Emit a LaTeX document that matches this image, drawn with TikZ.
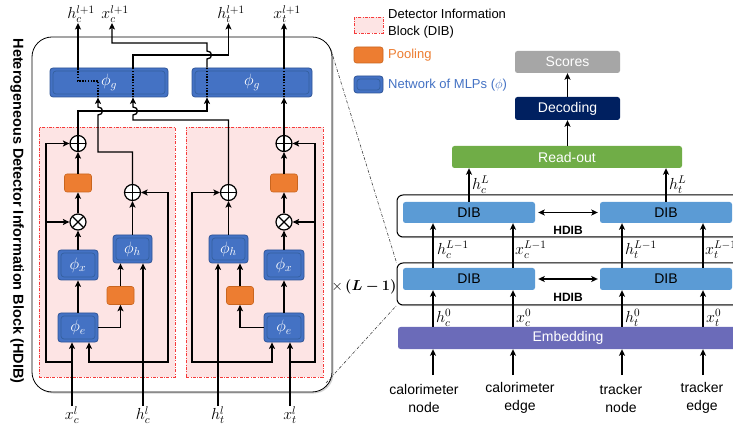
\documentclass[tikz,border=0pt]{standalone}
\usepackage{fix-cm}
\usepackage{bm}
\usepackage[no-math]{fontspec}
\setmainfont{Liberation Sans}
\usetikzlibrary{arrows.meta,shadows,calc}
\definecolor{mlpblue}{HTML}{4472C4}
\definecolor{mlpedge}{HTML}{2F5597}
\definecolor{mlpin}{HTML}{34609F}
\definecolor{poolor}{HTML}{ED7D31}
\definecolor{pooledge}{HTML}{C9651F}
\definecolor{dibpink}{HTML}{FDE4E4}
\definecolor{dibred}{HTML}{F53B3B}
\definecolor{dibblue}{HTML}{5B9BD5}
\definecolor{rogreen}{HTML}{70AD47}
\definecolor{decnavy}{HTML}{002060}
\definecolor{scgray}{HTML}{A6A6A6}
\definecolor{embpurple}{HTML}{6B6BB9}
\begin{document}
\begin{tikzpicture}[x=1pt,y=-1pt,
  font=\fontsize{14}{17}\selectfont,
  wire/.style={line width=1.3pt, line join=miter},
  arr/.style={wire,-{Stealth[length=6.5pt,width=6pt,inset=1.5pt]}},
  darr/.style={wire,{Stealth[length=6.5pt,width=6pt,inset=1.5pt]}-{Stealth[length=6.5pt,width=6pt,inset=1.5pt]}},
  dotw/.style={line width=1.3pt, dash pattern=on 1.4pt off 1.4pt},
  mlp/.style={draw=mlpedge, fill=mlpblue, line width=0.8pt, rounded corners=3pt, text=white, inner sep=0pt,
     font=\fontsize{16.5}{18}\selectfont,
     path picture={\draw[mlpin, line width=0.7pt] ([shift={(3pt,3pt)}]path picture bounding box.south west) rectangle ([shift={(-3pt,-3pt)}]path picture bounding box.north east);}},
  pool/.style={draw=pooledge, fill=poolor, line width=0.6pt, rounded corners=2.5pt, minimum width=27pt, minimum height=18pt, inner sep=0pt},
  opl/.style={circle, draw, line width=1.2pt, fill=white, minimum size=16pt, inner sep=0pt,
     path picture={\draw[line width=1.2pt] (path picture bounding box.north) -- (path picture bounding box.south) (path picture bounding box.west) -- (path picture bounding box.east);}},
  otm/.style={circle, draw, line width=1.2pt, fill=white, minimum size=16pt, inner sep=0pt,
     path picture={\draw[line width=1.2pt] ([shift={(-6pt,-6pt)}]path picture bounding box.center) -- ([shift={(6pt,6pt)}]path picture bounding box.center) ([shift={(-6pt,6pt)}]path picture bounding box.center) -- ([shift={(6pt,-6pt)}]path picture bounding box.center);}},
  dibbox/.style={draw=dibred, fill=dibpink, line width=0.6pt, dash pattern=on 3pt off 1.5pt on 0.7pt off 1.5pt, inner sep=0pt},
  colbox/.style={rounded corners=2.5pt, text=white, inner sep=0pt},
  dib/.style={fill=dibblue, rounded corners=2.5pt, inner sep=0pt},
  hframe/.style={draw, line width=1pt, rounded corners=6pt, fill=white, inner sep=0pt, drop shadow={opacity=0.35, shadow xshift=0.8pt, shadow yshift=-1.2pt}},
  zoomline/.style={line width=0.6pt, draw=black!75, dash pattern=on 3pt off 1.5pt on 0.6pt off 1.5pt},
  lab/.style={inner sep=0pt},
  mlab/.style={inner sep=0pt, font=\fontsize{16}{18}\selectfont}
]
\clip (0,0) rectangle (733,427);
\fill[white] (0,0) rectangle (733,427);

% ---------- left: HDIB detail ----------
\node[draw, line width=0.8pt, rounded corners=20pt, fill=white, minimum width=300pt, minimum height=355pt, inner sep=0pt,
      drop shadow={opacity=0.35, shadow xshift=1.5pt, shadow yshift=-1.5pt}] (hdibL) at (182,214.5) {};
\node[rotate=-90, font=\bfseries\fontsize{14.5}{16}\selectfont] (title) at (17,211) {Heterogeneous Detector Information Block (HDIB)};

\node[dibbox, minimum width=136pt, minimum height=250pt] (dibL) at (107,252) {};
\node[dibbox, minimum width=137pt, minimum height=250pt] (dibR) at (254.5,252) {};

\node[mlp, minimum width=118pt, minimum height=29pt] (phigL) at (109,82.5) {$\phi_g$};
\node[mlp, minimum width=120pt, minimum height=29pt] (phigR) at (252,82.5) {$\phi_g$};

% left DIB
\node[mlp, minimum width=40pt, minimum height=29pt] (pheL) at (78,327.5) {$\phi_e$};
\node[mlp, minimum width=40pt, minimum height=30pt] (phxL) at (78,265) {$\phi_x$};
\node[mlp, minimum width=39pt, minimum height=28pt] (phhL) at (132.5,249) {$\phi_h$};
\node[pool] (poolhL) at (120.5,295.5) {};
\node[pool] (poolxL) at (78,183) {};
\node[otm] (otmL) at (78,222) {};
\node[opl] (oplxL) at (78,143.5) {};
\node[opl] (oplhL) at (132.5,192.5) {};

% right DIB
\node[mlp, minimum width=40pt, minimum height=29pt] (pheR) at (284,327.5) {$\phi_e$};
\node[mlp, minimum width=40pt, minimum height=30pt] (phxR) at (284,265) {$\phi_x$};
\node[mlp, minimum width=39pt, minimum height=28pt] (phhR) at (228.5,249) {$\phi_h$};
\node[pool] (poolhR) at (240,295.5) {};
\node[pool] (poolxR) at (284,183) {};
\node[otm] (otmR) at (284,222) {};
\node[opl] (oplxR) at (284,143.5) {};
\node[opl] (oplhR) at (228.5,192.5) {};

% input / output labels
\node[mlab] (inxc) at (72,415) {$x_c^l$};
\node[mlab] (inhc) at (143,415) {$h_c^l$};
\node[mlab] (inht) at (218,415) {$h_t^l$};
\node[mlab] (inxt) at (290,415) {$x_t^l$};
\node[mlab] (outhc) at (81,14) {$h_c^{l+1}$};
\node[mlab] (outxc) at (115,14) {$x_c^{l+1}$};
\node[mlab] (outht) at (231,14) {$h_t^{l+1}$};
\node[mlab] (outxt) at (287,14) {$x_t^{l+1}$};

\coordinate (busL) at (0,362);
\coordinate (lvL) at (46,0);
\coordinate (peinL) at (89,0);
\coordinate (rvL) at (168,0);
\coordinate (lvR) at (192,0);
\coordinate (peinR) at (272,0);
\coordinate (rvR) at (315,0);
\coordinate (colA) at (78,0);
\coordinate (colB) at (98,0);
\coordinate (colC) at (133,0);
\coordinate (colD) at (207,0);
\coordinate (colE) at (284,0);
\coordinate (colF) at (112,0);
\coordinate (colG) at (228.5,0);
\coordinate (yA) at (0,111);
\coordinate (yB) at (0,120);
\coordinate (yC) at (0,152);
\coordinate (yD) at (0,43);
\coordinate (yE) at (0,55);

% left DIB wires
\draw[arr] (inxc.north) -- (inxc.north |- pheL.south);
\draw[arr] (inxc |- busL) -- (lvL |- busL) -- (lvL |- oplxL) -- (oplxL.west);
\draw[arr] (lvL |- otmL) -- (otmL.west);
\draw[arr] (inhc.north) -- (inhc.north |- phhL.south);
\draw[arr] (inhc |- busL) -- (peinL |- busL) -- (peinL |- pheL.south);
\draw[arr] (inhc |- busL) -- (rvL |- busL) -- (rvL |- oplhL) -- (oplhL.east);
\draw[arr] (pheL.east) -| (poolhL.south);
\draw[arr] (poolhL.north) -- (poolhL.north |- phhL.south);
\draw[arr] (pheL.north) -- (phxL.south);
\draw[arr] (phxL.north) -- (otmL.south);
\draw[arr] (otmL.north) -- (poolxL.south);
\draw[arr] (poolxL.north) -- (oplxL.south);
\draw[arr] (phhL.north -| oplhL) -- (oplhL.south);

% right DIB wires
\draw[arr] (inxt.north) -- (inxt.north |- pheR.south);
\draw[arr] (inxt |- busL) -- (rvR |- busL) -- (rvR |- oplxR) -- (oplxR.east);
\draw[arr] (rvR |- otmR) -- (otmR.east);
\draw[arr] (inht.north) -- (inht.north |- phhR.south);
\draw[arr] (inht |- busL) -- (peinR |- busL) -- (peinR |- pheR.south);
\draw[arr] (inht |- busL) -- (lvR |- busL) -- (lvR |- oplhR) -- (oplhR.west);
\draw[arr] (pheR.west) -| (poolhR.south);
\draw[arr] (poolhR.north) -- (poolhR.north |- phhR.south);
\draw[arr] (pheR.north) -- (phxR.south);
\draw[arr] (phxR.north) -- (otmR.south);
\draw[arr] (otmR.north) -- (poolxR.south);
\draw[arr] (poolxR.north) -- (oplxR.south);
\draw[arr] (phhR.north -| oplhR) -- (oplhR.south);

% into phi_g
\draw[arr] (oplxL.north) -- (oplxL |- yA) -- (colD |- yA) -- (colD |- phigR.south);
\draw[arr] (oplhL.north) -- (oplhL |- yC) -- (colB |- yC) -- (98,115) .. controls (104,115) and (104,107) .. (98,107) -- (colB |- phigL.south);
\draw[arr] (oplhR.north) -- (oplhR |- yB) -- (colC |- yB) -- (133,115) .. controls (139,115) and (139,107) .. (133,107) -- (colC |- phigL.south);
\draw[arr] (oplxR.north) -- (colE |- phigR.south);

% dotted pass-through
\draw[dotw] (colB |- phigL.south) -- (98,81) -- (78,81) -- (colA |- phigL.north);
\draw[dotw] (colC |- phigL.south) -- (colC |- phigL.north);
\draw[dotw] (colD |- phigR.south) -- (colD |- phigR.north);
\draw[dotw] (colE |- phigR.south) -- (colE |- phigR.north);

% outputs
\draw[arr] (colA |- phigL.north) -- (colA |- outhc.south);
\draw[arr] (colC |- phigL.north) -- (colC |- yE) -- (colG |- yE) -- (colG |- outht.south);
\draw[arr] (colD |- phigR.north) -- (207,59) .. controls (213,59) and (213,51) .. (207,51) -- (colD |- yD) -- (colF |- yD) -- (colF |- outxc.south);
\draw[arr] (colE |- phigR.north) -- (colE |- outxt.south);

% ---------- legend ----------
\node[dibbox, minimum width=29pt, minimum height=16pt] (legdib) at (368.5,25) {};
\node[lab, anchor=west, align=left, font=\fontsize{13}{17}\selectfont] (legdibt) at (388,24) {Detector Information\\Block (DIB)};
\node[pool, minimum width=29pt, minimum height=16pt] (legpool) at (368.5,55) {};
\node[lab, anchor=west, text=poolor, font=\fontsize{13}{16}\selectfont] (legpoolt) at (388,55) {Pooling};
\node[mlp, minimum width=29pt, minimum height=17pt] (legmlp) at (368.5,84.5) {};
\node[lab, anchor=west, text=mlpblue, font=\fontsize{13}{16}\selectfont] (legmlpt) at (388,85) {Network of MLPs ($\phi$)};

% ---------- right: overall model ----------
\node[colbox, fill=scgray, minimum width=105pt, minimum height=22pt] (scores) at (567.5,62) {Scores};
\node[colbox, fill=decnavy, minimum width=105pt, minimum height=23pt] (decoding) at (567.5,108.5) {Decoding};
\node[colbox, fill=rogreen, minimum width=230pt, minimum height=22pt] (readout) at (567,157) {Read-out};
\draw[arr] (decoding.south |- readout.north) -- (decoding.south);
\draw[arr] (decoding.north) -- (scores.south);

\node[hframe, minimum width=348pt, minimum height=42pt] (hdibU) at (571,216) {};
\node[hframe, minimum width=348pt, minimum height=42pt] (hdibD) at (571,284) {};
\node[dib, minimum width=132pt, minimum height=21pt] (dibUL) at (469,212.5) {DIB};
\node[dib, minimum width=132pt, minimum height=21pt] (dibUR) at (666,212.5) {DIB};
\node[dib, minimum width=132pt, minimum height=22pt] (dibDL) at (469,279) {DIB};
\node[dib, minimum width=132pt, minimum height=22pt] (dibDR) at (666,279) {DIB};
\draw[darr] ([xshift=3pt]dibUL.east) -- ([xshift=-2pt]dibUR.west);
\draw[darr] ([xshift=3pt]dibDL.east) -- ([xshift=-2pt]dibDR.west);
\node[lab, font=\bfseries\fontsize{12}{14}\selectfont] (hlabU) at (568,230) {HDIB};
\node[lab, font=\bfseries\fontsize{12}{14}\selectfont] (hlabD) at (568,297) {HDIB};

\node[colbox, fill=embpurple, minimum width=340pt, minimum height=22pt] (emb) at (568,338) {Embedding};

\coordinate (rc1) at (433,0);
\coordinate (rc2) at (513,0);
\coordinate (rc3) at (622,0);
\coordinate (rc4) at (703,0);
\coordinate (inbase) at (0,375);

\draw[arr] (dibUL.north) -- (dibUL.north |- readout.south);
\draw[arr] (dibUR.north) -- (dibUR.north |- readout.south);
\node[mlab, anchor=west] (lhcL) at (472,185) {$h_c^L$};
\node[mlab, anchor=west] (lhtL) at (669,185) {$h_t^L$};

\draw[arr] (rc1 |- dibDL.north) -- (rc1 |- dibUL.south);
\draw[arr] (rc2 |- dibDL.north) -- (rc2 |- dibUL.south);
\draw[arr] (rc3 |- dibDR.north) -- (rc3 |- dibUR.south);
\draw[arr] (rc4 |- dibDR.north) -- (rc4 |- dibUR.south);
\node[mlab, anchor=west] (l1) at (437,250) {$h_c^{L-1}$};
\node[mlab, anchor=west] (l2) at (515,250) {$x_c^{L-1}$};
\node[mlab, anchor=west] (l3) at (625,250) {$h_t^{L-1}$};
\node[mlab, anchor=west] (l4) at (705,250) {$x_t^{L-1}$};

\draw[arr] (rc1 |- emb.north) -- (rc1 |- dibDL.south);
\draw[arr] (rc2 |- emb.north) -- (rc2 |- dibDL.south);
\draw[arr] (rc3 |- emb.north) -- (rc3 |- dibDR.south);
\draw[arr] (rc4 |- emb.north) -- (rc4 |- dibDR.south);
\node[mlab, anchor=west] (e1) at (436,318) {$h_c^0$};
\node[mlab, anchor=west] (e2) at (516,318) {$x_c^0$};
\node[mlab, anchor=west] (e3) at (625,318) {$h_t^0$};
\node[mlab, anchor=west] (e4) at (706,318) {$x_t^0$};

\node[lab, align=center, font=\fontsize{14}{18}\selectfont] (incn) at (424,398) {calorimeter\\node};
\node[lab, align=center, font=\fontsize{14}{18}\selectfont] (ince) at (520,398) {calorimeter\\edge};
\node[lab, align=center, font=\fontsize{14}{18}\selectfont] (intn) at (621,398) {tracker\\node};
\node[lab, align=center, font=\fontsize{14}{18}\selectfont] (inte) at (702,398) {tracker\\edge};
\draw[arr] (rc1 |- inbase) -- (rc1 |- emb.south);
\draw[arr] (rc2 |- inbase) -- (rc2 |- emb.south);
\draw[arr] (rc3 |- inbase) -- (rc3 |- emb.south);
\draw[arr] (rc4 |- inbase) -- (rc4 |- emb.south);

\node[lab, font=\fontsize{14.5}{17}\selectfont] (times) at (364,287) {$\times\,\bm{(L-1)}$};

\coordinate (zA) at (331,50);
\coordinate (zB) at (326,383);
\draw[zoomline] (zA) -- (hdibD.north west);
\draw[zoomline] (zB) -- (hdibD.south west);
\end{tikzpicture}
\end{document}
